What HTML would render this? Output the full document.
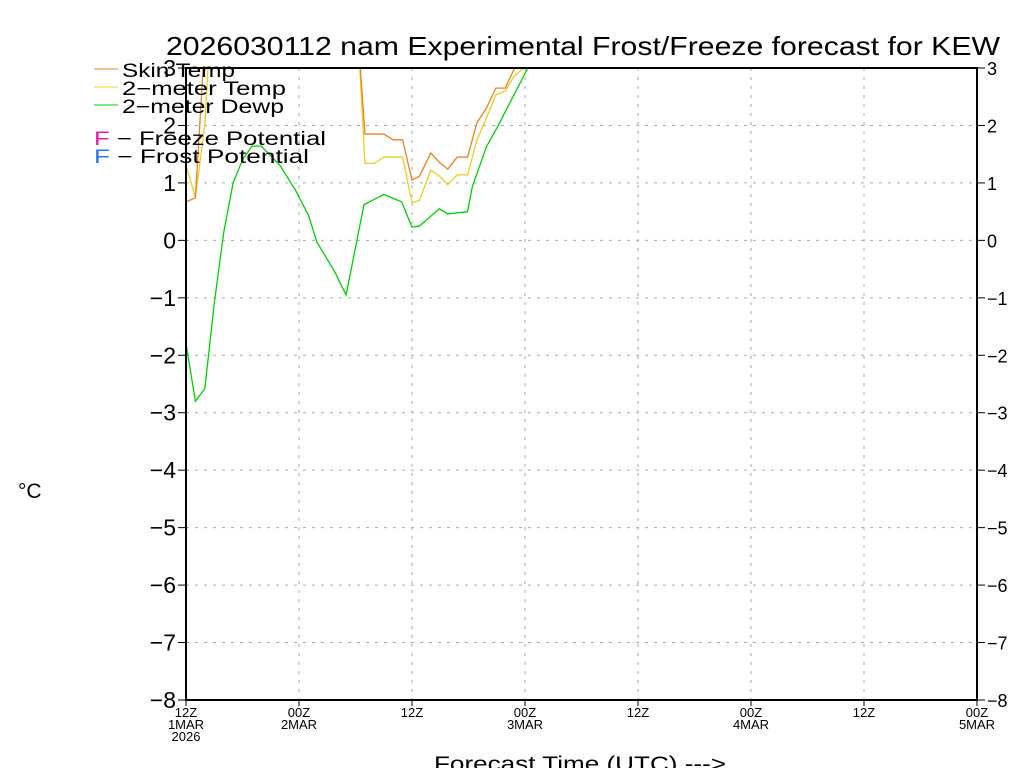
<!DOCTYPE html>
<html><head><meta charset="utf-8"><style>
body{margin:0;background:#fff;}
svg{display:block;font-family:"Liberation Sans",sans-serif;}
</style></head><body>
<svg id="chart" width="1024" height="768" viewBox="0 0 1024 768">
<defs><clipPath id="pc"><rect x="186" y="68" width="791" height="632"/></clipPath></defs>
<text x="166" y="55" font-size="26" textLength="834" lengthAdjust="spacingAndGlyphs">2026030112 nam Experimental Frost/Freeze forecast for KEW</text>
<g id="grid"></g>
<g id="axes"></g>
<g id="series" clip-path="url(#pc)"></g>
<rect x="186" y="68" width="791" height="632" fill="none" stroke="#000" stroke-width="2"/>
<text x="18" y="498" font-size="21">°C</text>
<text x="434" y="771" font-size="21" textLength="292" lengthAdjust="spacingAndGlyphs">Forecast Time (UTC) ---&gt;</text>
<g font-size="19">
<line x1="94" y1="69" x2="118" y2="69" stroke="#f08020"/><text x="122" y="77" textLength="113" lengthAdjust="spacingAndGlyphs">Skin Temp</text>
<line x1="94" y1="87" x2="118" y2="87" stroke="#e8d020"/><text x="122" y="95" textLength="164" lengthAdjust="spacingAndGlyphs">2−meter Temp</text>
<line x1="94" y1="105" x2="118" y2="105" stroke="#00d000"/><text x="122" y="113" textLength="162" lengthAdjust="spacingAndGlyphs">2−meter Dewp</text>
<text x="94" y="145" textLength="232" lengthAdjust="spacingAndGlyphs"><tspan fill="#e0209a">F</tspan> − Freeze Potential</text>
<text x="94" y="163" textLength="215" lengthAdjust="spacingAndGlyphs"><tspan fill="#3070f0">F</tspan> − Frost Potential</text>
</g>
</svg>
<script>
const yTicks=[3,2,1,0,-1,-2,-3,-4,-5,-6,-7,-8];
const xTickHours=[0,12,24,36,48,60,72,84];
const xTickLabels=[["12Z","1MAR","2026"],["00Z","2MAR"],["12Z"],["00Z","3MAR"],["12Z"],["00Z","4MAR"],["12Z"],["00Z","5MAR"]];
const dewHours=[0,1,2,3,4,5,6,7,8,10,11.6,13,13.9,15.8,17,18.9,21,22.9,24,24.8,26.9,27.8,29.9,30.4,31.9,33,36.3];
const dewVals=[-1.8,-2.8,-2.58,-1.1,0.13,1.0,1.4,1.64,1.64,1.3,0.88,0.44,-0.03,-0.55,-0.95,0.62,0.8,0.67,0.23,0.25,0.55,0.46,0.5,0.93,1.63,1.95,3.0];
const skinHours=[0,1,2,3,17,18.3,19,21,22,23,24,24.8,26,26.9,27.8,28.8,29.9,30.9,31.9,32.9,33.9,34.9];
const skinVals=[0.67,0.74,3.5,5,5,3.5,1.85,1.85,1.75,1.75,1.05,1.12,1.52,1.36,1.24,1.45,1.45,2.05,2.3,2.65,2.65,3.0];
const t2Hours=[0,1,2,3,17,18.3,19,20,21,23,24,24.8,26,26.9,27.8,28.8,29.9,30.9,31.9,32.9,33.9,34.9,35.9];
const t2Vals=[1.3,0.75,2.0,5,5,3.5,1.34,1.34,1.45,1.45,0.65,0.7,1.22,1.12,0.97,1.14,1.14,1.75,2.13,2.53,2.6,2.87,3.0];
const X=h=>186+h*(791/84);
const Y=v=>68+(3-v)*(632/11);
const NS="http://www.w3.org/2000/svg";
function mk(t,a,p){const e=document.createElementNS(NS,t);for(const k in a)e.setAttribute(k,a[k]);p.appendChild(e);return e;}
const grid=document.getElementById('grid'),axes=document.getElementById('axes'),ser=document.getElementById('series');
yTicks.forEach(v=>{
 const l=mk('line',{x1:186,x2:977,y1:Y(v),y2:Y(v),stroke:'#aaa','stroke-dasharray':'3,6'},grid);
 
 
 mk('line',{x1:178,x2:186,y1:Y(v),y2:Y(v),stroke:'#000'},axes);
 mk('line',{x1:977,x2:985,y1:Y(v),y2:Y(v),stroke:'#000'},axes);
 const s=(v<0?'−':'')+Math.abs(v);
 const a=mk('text',{x:176,y:Y(v)+8,'font-size':23,'text-anchor':'end'},axes);a.textContent=s;
 
 
 const b=mk('text',{x:987,y:Y(v)+7,'font-size':18},axes);b.textContent=s;
 
 
});
xTickHours.forEach((h,i)=>{
 const l=mk('line',{x1:X(h),x2:X(h),y1:68,y2:700,stroke:'#aaa','stroke-dasharray':'3,6'},grid);
 
 
 mk('line',{x1:X(h),x2:X(h),y1:700,y2:706,stroke:'#000'},axes);
 xTickLabels[i].forEach((s,j)=>{
  const t=mk('text',{x:X(h),y:717+j*12,'font-size':13,'text-anchor':'middle'},axes);t.textContent=s;
  
  
 });
});
function line(hs,vs,c,name){
 const p=mk('polyline',{points:hs.map((h,i)=>X(h)+','+Y(vs[i])).join(' '),fill:'none',stroke:c,'stroke-width':1.3},ser);
 
 
}
line(dewHours,dewVals,'#00d000','dewpoint-line');
line(t2Hours,t2Vals,'#e8d020','2m-temp-line');
line(skinHours,skinVals,'#f08020','skin-temp-line');
</script>
</body></html>
